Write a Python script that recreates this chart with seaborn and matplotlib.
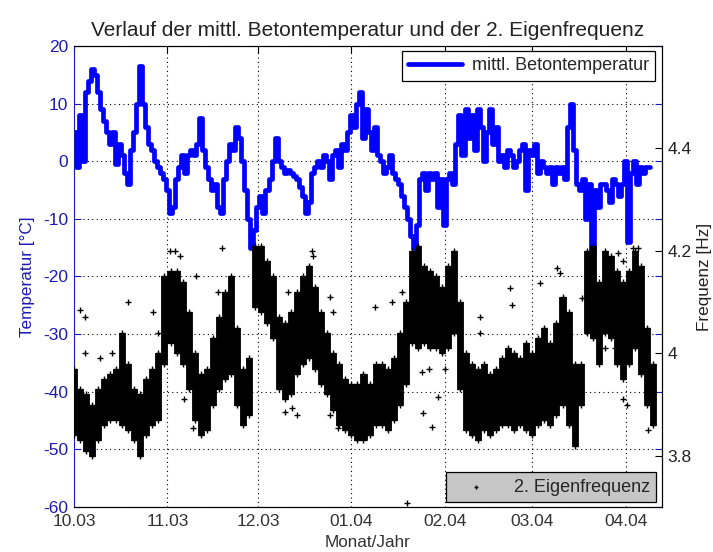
import numpy as np
import pandas as pd
import matplotlib
matplotlib.use("Agg")
import matplotlib.pyplot as plt
import matplotlib.dates as mdates
import seaborn as sns

sns.set_style("white")
plt.rcParams['font.family'] = ['Liberation Sans', 'DejaVu Sans']
plt.rcParams['axes.unicode_minus'] = False

start = pd.Timestamp("2003-10-01")
end = pd.Timestamp("2004-04-13")

# mittl. Betontemperatur, one reading per day from 01.10.2003 [°C]
temp = [5, -1, 8, 0, 12, 14, 16, 15, 12, 9,
        7, 5, 3, 5, -0.5, 3, 1, -2, -4, 2,
        5, 10, 16.5, 10, 6, 3, 2, 0, -1, -2,
        -3, -5, -9, -8, -3, -1, 1, -2, 1, 2,
        1, 3, 7.5, 2, -1, -3, -5, -4, -8, -9,
        -3, 0, 3, 2, 6, 4, 0, -5, -10, -15,
        -12, -8, -6, -9, -5, -3, 0, 4, 0, -1,
        -2, -1.5, -2, -2.5, -3, -4.5, -6, -9, -7, -2,
        -1, 0, -1, 1, 0, -3, 1, 2, -1, 3,
        2, 5, 8, 6, 10, 12, 4, 9, 5, 2,
        6, 1, 0, -2, -1, 1, -2, -3, -4, -6,
        -8, -10, -13, -15, -11, -3, -2, -5, -2, -3,
        -2, -8, -3, -11, -3, -2, -4, 3, 8, 1,
        9, 4, 8, 2, 9, 6, 0, 5, 9, 3,
        6, 0, 1, -1, 2, 1, -1, 0, 2, 3,
        -5, 2, 1, 3, -2, 0, -1, -2, -1, -4,
        -1, -2, -1, -3, 6, 10, 2, -4, -5, -3,
        -10, -4, -16, -5, -8, -4, -4, -5, -7, -3,
        -4, -6, -4, 0, -14, -2, 0, -4, -1, -2,
        -1, -1]

# 2. Eigenfrequenz: dense band read every second day [Hz]
band_step = 2
freq_hi = [3.97, 3.93, 3.92, 3.90, 3.93, 3.95, 3.96, 3.97, 4.04, 3.98,
           3.93, 3.92, 3.95, 3.97, 4.00, 4.15, 4.16, 4.16, 4.14, 4.08,
           4.00, 3.96, 3.97, 4.03, 4.07, 4.12, 4.15, 4.05, 3.97, 3.99,
           4.21, 4.21, 4.18, 4.15, 4.07, 4.06, 4.08, 4.12, 4.15, 4.17,
           4.13, 4.08, 4.04, 4.00, 3.98, 3.95, 3.94, 3.94, 3.96, 3.94,
           3.98, 3.98, 3.97, 3.99, 4.04, 4.10, 4.20, 4.21, 4.17, 4.16,
           4.15, 4.13, 4.17, 4.20, 4.10, 4.00, 3.98, 3.97, 3.98, 3.96,
           3.97, 3.99, 4.01, 4.00, 3.99, 4.02, 4.00, 4.03, 4.05, 4.02,
           4.06, 4.11, 4.08, 3.98, 3.98, 4.20, 4.21, 4.14, 4.20, 4.19,
           4.16, 4.14, 4.16, 4.20, 4.17, 4.05, 3.98]
freq_lo = [3.84, 3.83, 3.81, 3.80, 3.83, 3.86, 3.87, 3.87, 3.86, 3.85,
           3.83, 3.80, 3.84, 3.86, 3.87, 3.98, 4.02, 4.00, 3.98, 3.93,
           3.87, 3.84, 3.85, 3.90, 3.93, 3.95, 3.96, 3.90, 3.86, 3.88,
           4.09, 4.08, 4.06, 4.03, 3.93, 3.91, 3.92, 3.96, 3.98, 3.99,
           3.97, 3.94, 3.92, 3.89, 3.86, 3.85, 3.84, 3.83, 3.83, 3.84,
           3.86, 3.86, 3.85, 3.87, 3.90, 3.94, 4.02, 4.01, 4.02, 4.01,
           4.01, 4.00, 4.01, 4.04, 3.93, 3.85, 3.84, 3.83, 3.85, 3.84,
           3.85, 3.86, 3.86, 3.85, 3.86, 3.85, 3.84, 3.86, 3.87, 3.86,
           3.88, 3.90, 3.86, 3.82, 3.90, 4.04, 4.03, 3.98, 4.04, 4.03,
           3.98, 3.95, 3.98, 4.01, 3.96, 3.90, 3.86]

# single scattered readings outside the band (day, Hz)
out_day = [2.0, 3.6, 3.6, 8.6, 12.6, 17.9, 26.2, 27.9, 31.8, 33.5,
           35.2, 40.5, 47.8, 36.5, 39.5, 49.1, 79.0, 79.3, 70.0, 72.3,
           74.0, 85.0, 87.6, 99.8, 105.5, 108.8, 115.8, 118.7, 120.7, 115.4,
           117.7, 123.0, 134.7, 134.7, 144.6, 145.3, 110.4, 154.6, 160.2, 161.2,
           168.5, 174.5, 176.1, 179.4, 180.4, 182.1, 185.4, 187.1, 182.1, 183.4,
           190.4, 85.9, 84.9, 71.0, 74.0]
out_freq = [4.085, 4.07, 4.00, 3.99, 4.00, 4.10, 4.08, 4.04, 4.20, 4.20,
            4.19, 4.15, 4.12, 3.91, 3.855, 4.206, 4.20, 4.19, 3.885, 3.893,
            3.88, 3.88, 3.855, 4.09, 4.10, 4.12, 3.884, 3.857, 3.915, 3.964,
            3.97, 3.97, 4.07, 4.04, 4.127, 4.095, 3.708, 4.137, 4.167, 4.157,
            4.108, 4.04, 4.01, 4.01, 4.196, 4.18, 4.206, 4.206, 3.91, 3.90,
            3.85, 4.08, 4.11, 4.12, 4.104]

temp_dates = start + pd.to_timedelta(np.arange(len(temp)), unit="D")
band_dates = start + pd.to_timedelta(np.arange(len(freq_hi)) * band_step, unit="D")
out_dates = start + pd.to_timedelta(out_day, unit="D")
band_height = np.array(freq_hi) - np.array(freq_lo)

fig = plt.figure(figsize=(7.13, 5.52), dpi=100)
ax1 = fig.add_axes([0.1038, 0.0815, 0.8247, 0.8352])
ax2 = ax1.twinx()

# temperature (left axis)
sns.lineplot(x=temp_dates, y=temp, ax=ax1, color="#0000ff", linewidth=3.4,
             drawstyle="steps-mid", label="mittl. Betontemperatur")

# frequency (right axis): dense band + ragged edges + single readings
ax2.bar(band_dates, band_height, bottom=freq_lo, width=band_step,
        color="black", edgecolor="black", linewidth=0.6)
ax2.scatter(band_dates, freq_hi, marker="+", s=18, color="black", linewidths=1.0)
ax2.scatter(band_dates, freq_lo, marker="+", s=18, color="black", linewidths=1.0)
sns.scatterplot(x=out_dates, y=out_freq, ax=ax2, marker="+", s=16, color="black",
                linewidth=1.0, label="2. Eigenfrequenz")

blue = "#1c1cb4"
ax1.set_xlim(start, end)
ax1.set_ylim(-60, 20)
ax1.set_yticks(np.arange(-60, 21, 10))
ax2.set_xlim(start, end)
ax2.set_ylim(3.7, 4.6)
ax2.set_yticks([3.8, 4.0, 4.2, 4.4])
ax2.set_yticklabels(["3.8", "4", "4.2", "4.4"])

ax1.xaxis.set_major_locator(mdates.MonthLocator())
ax1.xaxis.set_major_formatter(mdates.DateFormatter("%m.%y"))

ax1.grid(True, color="black", linestyle=(0, (1, 3)), linewidth=0.8)
ax2.grid(False)

ax1.tick_params(axis="x", direction="in", top=True, length=5, labelsize=12.5,
                color="black", labelcolor="#333333", pad=5)
ax1.tick_params(axis="y", direction="in", right=True, length=5, labelsize=12.5,
                color=blue, labelcolor=blue, pad=4)
ax2.tick_params(axis="y", direction="in", left=False, length=5, labelsize=12.5,
                color="black", labelcolor="#222222", pad=4)

for s in ["top", "bottom", "right"]:
    ax1.spines[s].set_color("black")
ax1.spines["left"].set_color(blue)
ax2.spines["left"].set_visible(False)
for s in ["top", "bottom", "right"]:
    ax2.spines[s].set_color("black")

ax1.set_ylabel("Temperatur [°C]", color=blue, fontsize=12.3, labelpad=6)
ax2.set_ylabel("Frequenz [Hz]", color="#222222", fontsize=12.3, labelpad=4)
ax1.set_xlabel("Monat/Jahr", fontsize=12.3, color="#333333", labelpad=4)
ax1.set_title("Verlauf der mittl. Betontemperatur und der 2. Eigenfrequenz",
              fontsize=15, color="#222222", pad=7)

leg1 = ax1.legend(loc="upper right", bbox_to_anchor=(0.988, 0.989), borderaxespad=0,
                  fancybox=False, edgecolor="black", framealpha=1, fontsize=13,
                  handlelength=3.0, handletextpad=0.5, borderpad=0.35)
leg1.get_frame().set_linewidth(0.9)
leg2 = ax2.legend(loc="lower right", bbox_to_anchor=(0.990, 0.011), borderaxespad=0,
                  fancybox=False, edgecolor="black", facecolor="#c6c6c6", framealpha=1,
                  fontsize=13, handlelength=2.6, handletextpad=0.8, borderpad=0.35,
                  markerscale=0.7)
leg2.get_frame().set_linewidth(0.9)

fig.savefig("out.png", dpi=100)
